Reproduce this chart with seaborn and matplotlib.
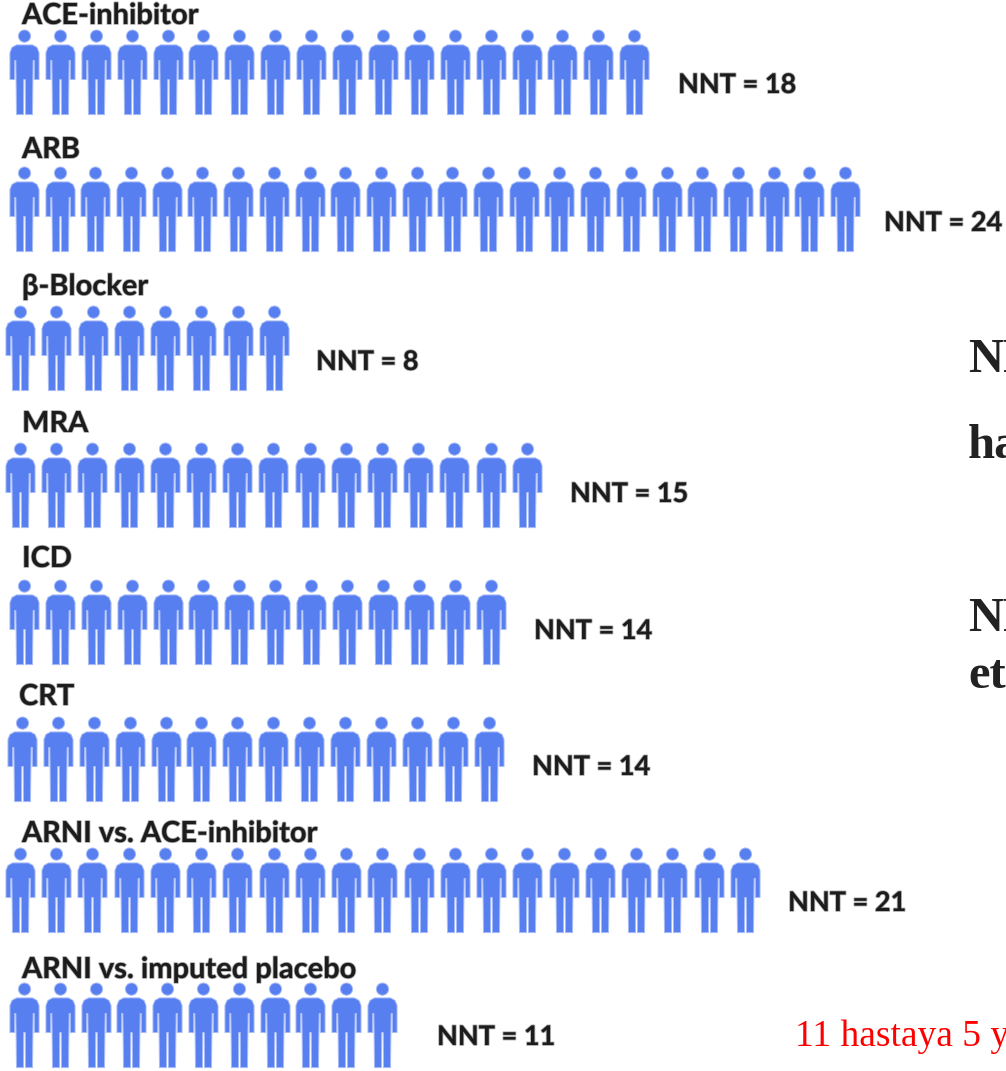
import numpy as np
import pandas as pd
import matplotlib
matplotlib.use("Agg")
import matplotlib.pyplot as plt
import matplotlib.patheffects as pe
from matplotlib.path import Path
import seaborn as sns

# Number needed to treat for each heart-failure therapy
treatments = ["ACE-inhibitor", "ARB", "β-Blocker", "MRA", "ICD", "CRT",
              "ARNI vs. ACE-inhibitor", "ARNI vs. imputed placebo"]
nnt_values = [18, 24, 8, 15, 14, 14, 21, 11]

# Row layout in canvas pixels
row_y = [72, 209, 348, 485, 622, 759, 890, 1025]
row_x0 = [24, 24, 20, 20, 24, 22, 20, 24]
row_step = [35.9, 35.7, 36.3, 36.2, 35.9, 35.9, 36.25, 35.8]
title_xy = [(22, 16), (22, 150), (22, 287), (22, 424), (22, 559), (19, 697), (22, 834), (22, 970)]
nnt_xy = [(678, 85), (884, 223), (316, 362), (570, 494), (534, 631), (532, 767), (788, 903), (437, 1037)]

BLUE = "#587FF0"
EDGE = "#A8BCF8"
INK = "#1c1c1c"


def person_marker():
    """Standing figure centred on the origin, 85 units tall."""
    head = Path.circle((0, 36.3), 6.1)
    body = Path(
        [(-8, 27.5), (8, 27.5), (12.5, 25), (14.5, 20), (14.5, -7), (9.8, -7), (9.8, 12), (8.6, 12),
         (8, -42), (1, -42), (0.8, -7), (-0.8, -7), (-1, -42), (-8, -42), (-8.6, 12), (-9.8, 12),
         (-9.8, -7), (-14.5, -7), (-14.5, 20), (-12.5, 25), (-8, 27.5)],
        closed=True,
    )
    return Path.make_compound_path(head, body)


# One record per patient in each treatment row
people = pd.DataFrame(
    [
        {"treatment": t, "x": x0 + i * step, "y": y}
        for t, n, x0, step, y in zip(treatments, nnt_values, row_x0, row_step, row_y)
        for i in range(n)
    ]
)

sns.set_theme(style="white")
fig = plt.figure(figsize=(10.06, 10.71), dpi=100)
ax = fig.add_axes([0, 0, 1, 1])

sns.scatterplot(
    data=people, x="x", y="y", marker=person_marker(), s=(85 * 0.72) ** 2,
    color=BLUE, edgecolor=EDGE, linewidth=0.7, legend=False, ax=ax,
)
ax.set_xlim(0, 1006)
ax.set_ylim(1071, 0)
ax.axis("off")

# Soft halo around the bold row labels
halo = [pe.withStroke(linewidth=1.3, foreground=INK, alpha=0.35)]
label_font = dict(family="Lato", fontweight="bold", color=INK, path_effects=halo)
for name, (x, y) in zip(treatments, title_xy):
    ax.text(x, y, name, fontsize=20.9, ha="left", va="center", **label_font)
for n, (x, y) in zip(nnt_values, nnt_xy):
    ax.text(x, y, f"NNT = {n}", fontsize=19.5, ha="left", va="center", **label_font)

# Notes running off the right-hand edge of the canvas
serif = dict(family="Liberation Serif", fontweight="bold", color="#222222", fontsize=35, ha="left", va="baseline")
ax.text(968, 372, "NNT", **serif)
ax.text(968, 458, "ha", **serif)
ax.text(968, 631, "NNT", **serif)
ax.text(968, 688, "et", **serif)
ax.text(795, 1046, "11 hastaya 5 y", family="Liberation Serif", color="#ff0000",
        fontsize=27, ha="left", va="baseline")

fig.savefig("out.png", dpi=100)
